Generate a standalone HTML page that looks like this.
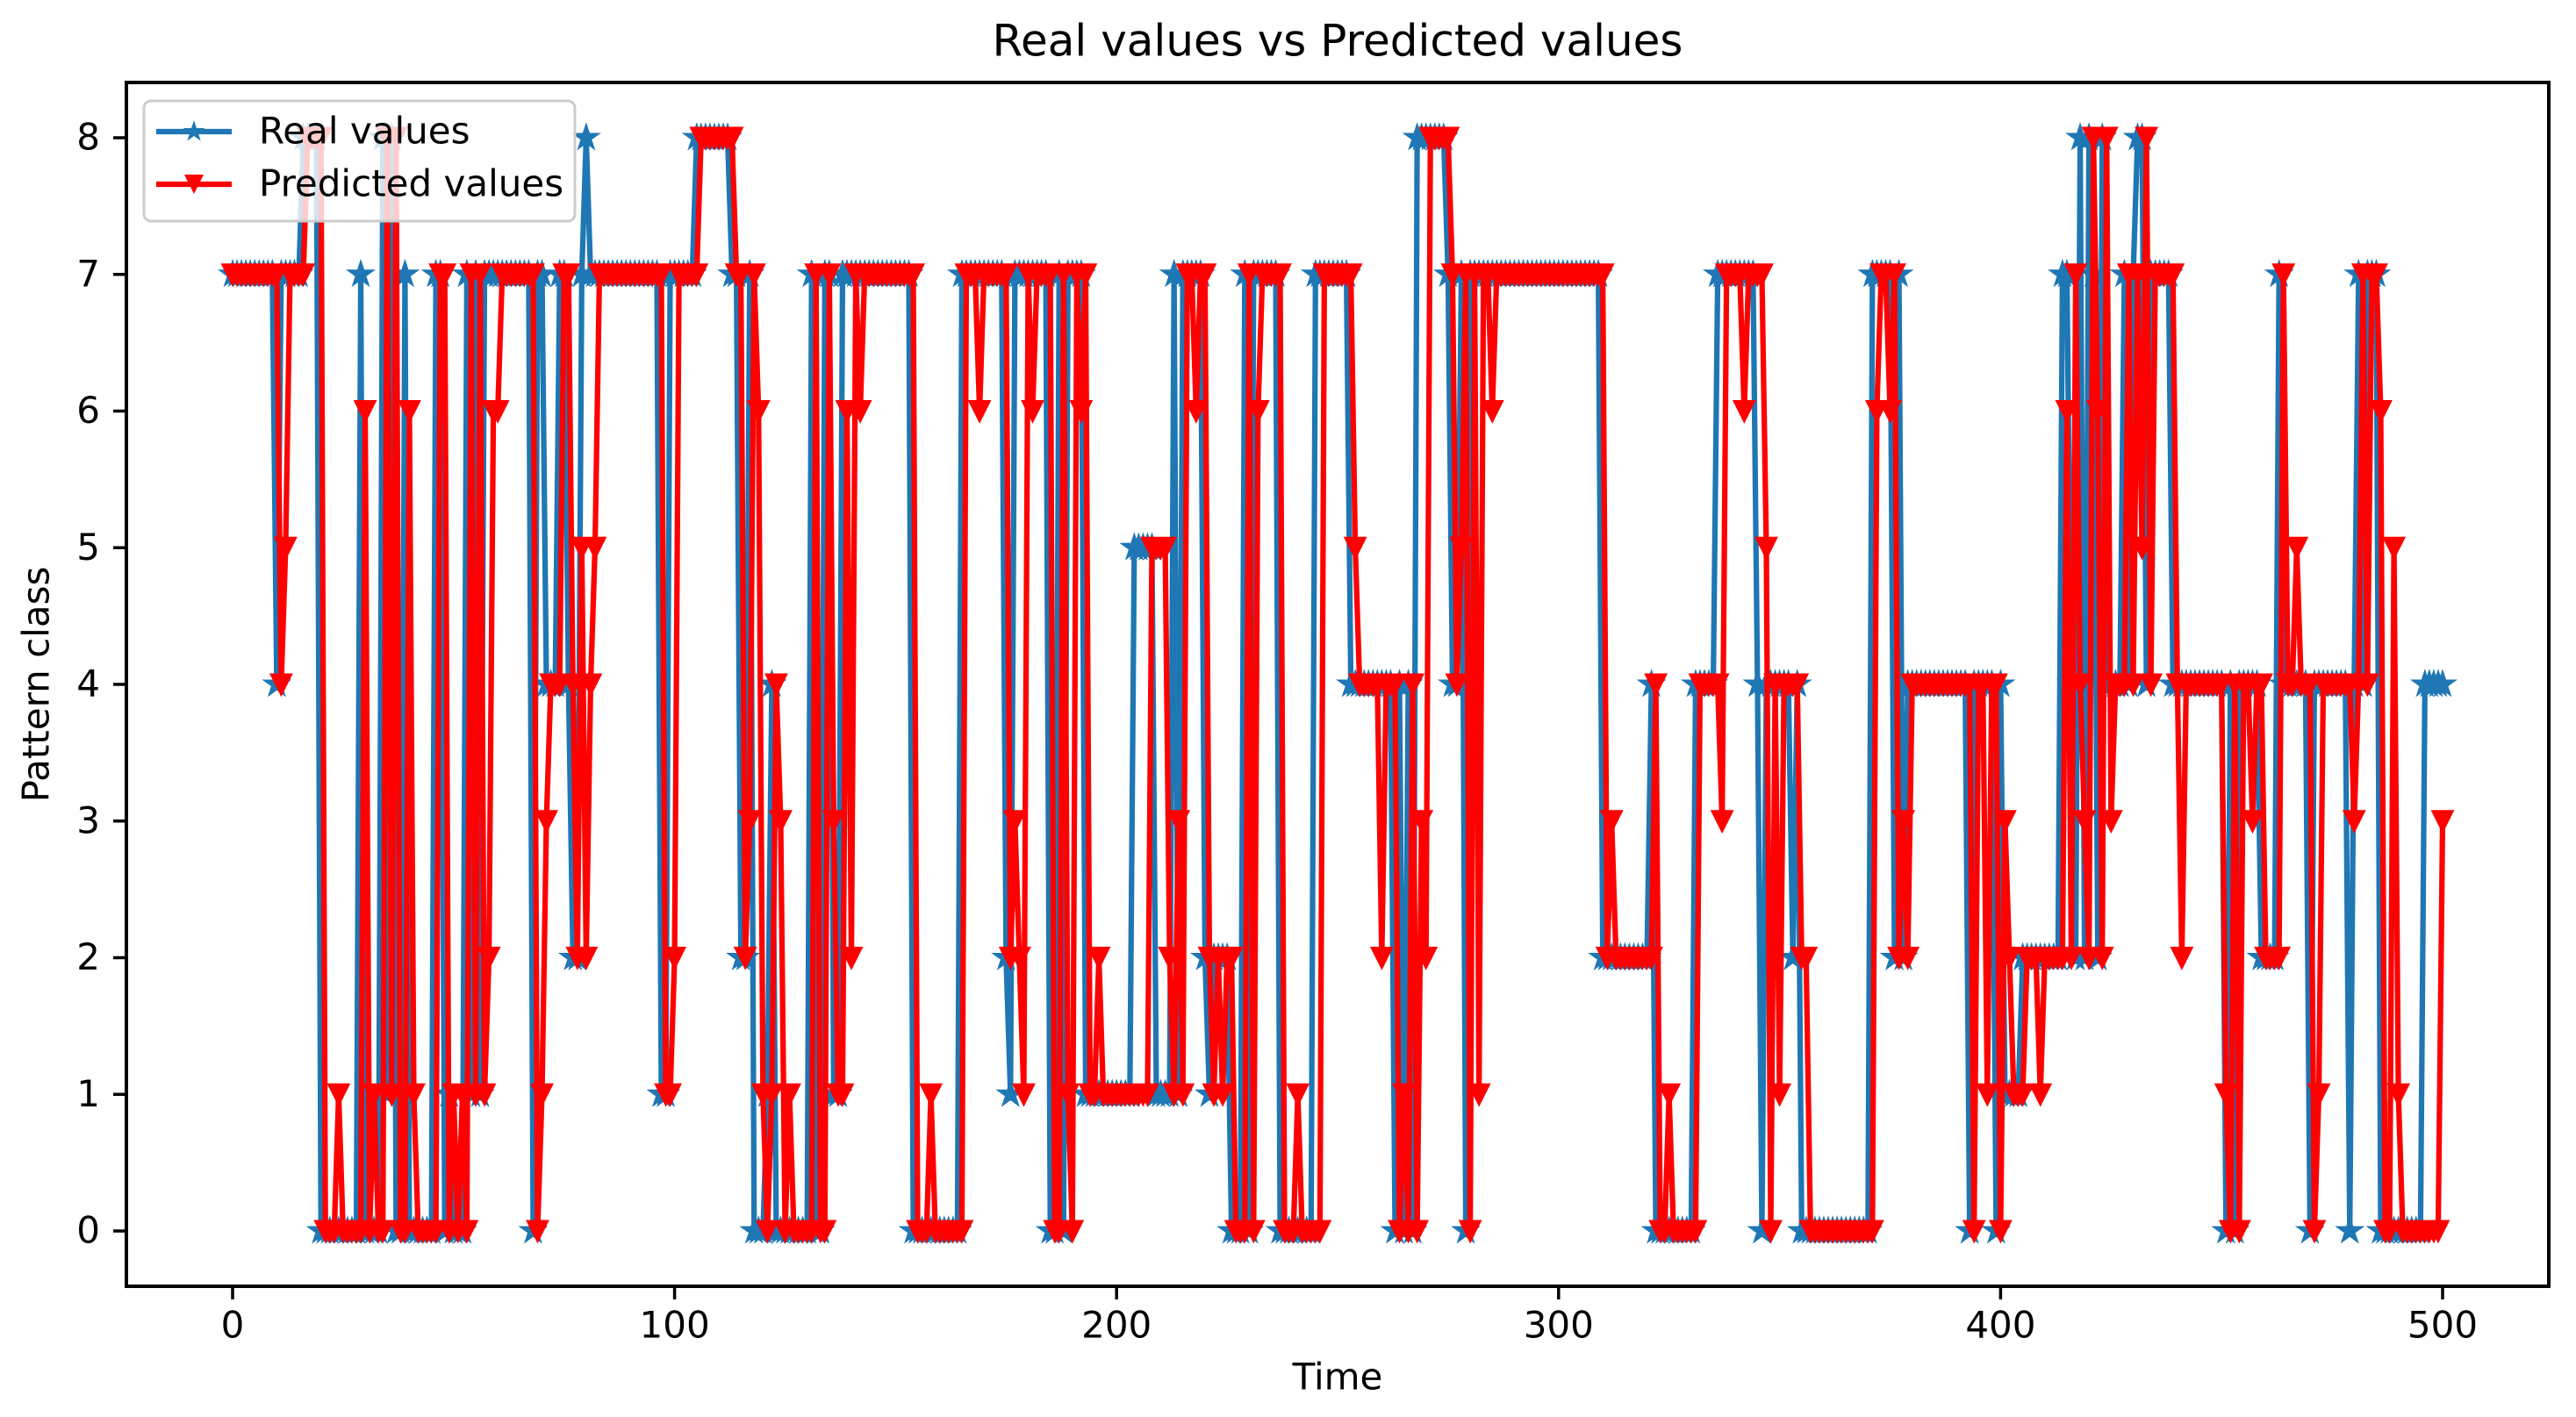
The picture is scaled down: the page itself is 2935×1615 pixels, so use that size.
<!DOCTYPE html>
<html><head><meta charset="utf-8">
<style>
html,body{margin:0;padding:0;background:#fff;}
svg{display:block;}
text{font-family:"DejaVu Sans","Liberation Sans",sans-serif;fill:#000;}
</style></head>
<body>
<svg id="chart" width="2935" height="1615" viewBox="0 0 2935 1615" xmlns="http://www.w3.org/2000/svg">
<defs><clipPath id="plotclip"><rect x="144" y="94" width="2760" height="1372"/></clipPath></defs>
<rect x="0" y="0" width="2935" height="1615" fill="#fff"/>
<text x="1524" y="50" font-size="50" text-anchor="middle" dominant-baseline="middle">Real values vs Predicted values</text>
<g id="plot" clip-path="url(#plotclip)"></g>
<rect x="144" y="94" width="2760" height="1372" fill="none" stroke="#000" stroke-width="4"/>
<g id="ticks"></g>
<text x="1524" y="1572" font-size="42" text-anchor="middle" dominant-baseline="middle">Time</text>
<text x="44" y="780" font-size="42" text-anchor="middle" dominant-baseline="middle" transform="rotate(-90 44 780)">Pattern class</text>
<g>
<rect x="164" y="115" width="491" height="137" rx="8" fill="#fff" fill-opacity="0.8" stroke="#ccc" stroke-width="3"/>
<g>
<line x1="178" y1="150" x2="264" y2="150" stroke="#1f77b4" stroke-width="6.25"/>
<g id="legstar"></g>
<text x="295" y="152" font-size="42" dominant-baseline="middle">Real values</text>
</g>
<g>
<line x1="178" y1="210" x2="264" y2="210" stroke="#ff0000" stroke-width="6.25"/>
<g id="legtri"></g>
<text x="295" y="212" font-size="42" dominant-baseline="middle">Predicted values</text>
</g>
</g>
</svg>
<script>
const xTicks = [0,100,200,300,400,500];
const yTicks = [0,1,2,3,4,5,6,7,8];
const realValues = [
7,7,7,7,7,7,7,7,7,7, 4,7,7,7,7,7,8,8,8,8, 0,0,0,0,0,0,0,0,0,7, 0,0,0,0,8,1,8,0,0,7,
0,0,0,0,0,0,7,7,0,1, 0,0,0,7,1,7,1,7,7,7, 7,7,7,7,7,7,7,7,0,7, 7,4,4,4,7,7,4,2,2,7,
8,7,7,7,7,7,7,7,7,7, 7,7,7,7,7,7,7,1,1,7, 7,7,7,7,7,8,8,8,8,8, 8,8,8,7,7,2,2,7,0,0,
0,1,4,0,0,0,0,0,0,0, 0,7,0,0,7,7,1,1,7,7, 7,7,7,7,7,7,7,7,7,7, 7,7,7,7,0,0,0,0,0,0,
0,0,0,0,0,7,7,7,7,7, 7,7,7,7,7,2,1,7,7,7, 7,7,7,7,7,0,0,7,0,7, 7,7,7,1,1,1,1,1,1,1,
1,1,1,1,5,5,5,5,5,1, 1,1,1,7,1,7,7,7,7,7, 2,1,2,2,2,2,0,0,0,7, 0,7,7,7,7,7,7,0,0,0,
0,0,0,0,0,7,7,7,7,7, 7,7,7,4,4,4,4,4,4,4, 4,4,4,0,4,0,4,0,8,8, 8,8,8,8,8,7,4,4,7,0,
7,7,7,7,7,7,7,7,7,7, 7,7,7,7,7,7,7,7,7,7, 7,7,7,7,7,7,7,7,7,7, 2,2,2,2,2,2,2,2,2,2,
2,4,0,0,0,0,0,0,0,0, 0,4,4,4,4,4,7,7,7,7, 7,7,7,7,7,4,0,4,4,4, 4,4,4,2,4,0,0,0,0,0,
0,0,0,0,0,0,0,0,0,0, 0,7,7,7,7,7,2,7,2,4, 4,4,4,4,4,4,4,4,4,4, 4,4,4,0,4,4,4,4,4,0,
4,1,1,1,1,2,2,2,2,2, 2,2,2,2,7,7,4,2,8,2, 8,7,2,8,4,4,4,4,7,4, 7,8,8,4,7,7,7,7,7,4,
4,4,4,4,4,4,4,4,4,4, 4,0,4,0,4,4,4,4,4,2, 2,2,2,7,4,4,4,4,4,4, 0,4,4,4,4,4,4,4,4,0,
4,7,4,7,7,7,0,0,0,0, 0,0,0,0,0,0,4,4,4,4, 4];
const predictedValues = [
7,7,7,7,7,7,7,7,7,7, 7,4,5,7,7,7,7,8,8,8, 8,0,0,0,1,0,0,0,0,0, 6,0,1,0,0,8,1,8,0,0,
6,1,0,0,0,0,0,7,7,0, 1,0,1,0,7,1,7,1,2,6, 6,7,7,7,7,7,7,7,7,0, 1,3,4,4,4,7,7,4,2,5,
2,4,5,7,7,7,7,7,7,7, 7,7,7,7,7,7,7,7,1,1, 2,7,7,7,7,7,8,8,8,8, 8,8,8,8,7,7,2,3,7,6,
1,0,1,4,3,0,1,0,0,0, 0,0,7,0,0,7,3,1,1,6, 2,7,6,7,7,7,7,7,7,7, 7,7,7,7,7,0,0,0,1,0,
0,0,0,0,0,0,7,7,7,6, 7,7,7,7,7,7,2,3,2,1, 7,6,7,7,7,7,0,0,7,1, 0,7,6,7,1,1,2,1,1,1,
1,1,1,1,1,1,1,1,5,5, 5,5,2,1,3,1,7,7,6,7, 7,2,1,2,1,2,2,0,0,0, 7,0,6,7,7,7,7,7,0,0,
0,1,0,0,0,0,0,7,7,7, 7,7,7,7,5,4,4,4,4,4, 2,4,4,4,0,1,0,4,0,3, 2,8,8,8,8,8,7,4,5,7,
0,7,1,7,7,6,7,7,7,7, 7,7,7,7,7,7,7,7,7,7, 7,7,7,7,7,7,7,7,7,7, 7,2,3,2,2,2,2,2,2,2,
2,2,4,0,0,1,0,0,0,0, 0,0,4,4,4,4,4,3,7,7, 7,7,6,7,7,7,7,5,0,4, 1,4,4,4,4,2,2,0,0,0,
0,0,0,0,0,0,0,0,0,0, 0,0,6,7,7,6,7,2,3,2, 4,4,4,4,4,4,4,4,4,4, 4,4,4,4,0,4,4,1,4,4,
0,3,2,1,1,1,2,2,2,1, 2,2,2,2,2,6,2,7,4,3, 2,8,6,2,8,3,4,4,4,7, 4,7,5,8,4,7,7,7,7,7,
4,2,4,4,4,4,4,4,4,4, 4,1,0,4,0,4,4,3,4,4, 2,2,2,2,7,4,4,5,4,4, 4,0,1,4,4,4,4,4,4,4,
3,4,7,4,7,7,6,0,0,5, 1,0,0,0,0,0,0,0,0,0, 3];

const NS = "http://www.w3.org/2000/svg";
const X0 = 265, X500 = 2783, Y0 = 1403, Y8 = 157;
function xScale(t){ return X0 + (X500 - X0) * t / 500; }
function yScale(v){ return Y0 + (Y8 - Y0) * v / 8; }

function starPath(cx, cy, R){
  const r = R * 0.381966;
  let d = "";
  for (let i = 0; i < 10; i++){
    const ang = -Math.PI/2 + i * Math.PI/5;
    const rad = (i % 2 === 0) ? R : r;
    d += (i === 0 ? "M" : "L") + (cx + rad*Math.cos(ang)).toFixed(2) + "," + (cy + rad*Math.sin(ang)).toFixed(2);
  }
  return d + "Z";
}
function triPath(cx, cy, r){
  return "M" + cx + "," + (cy + r) + "L" + (cx - r) + "," + (cy - r) + "L" + (cx + r) + "," + (cy - r) + "Z";
}

const plot = document.getElementById("plot");
function drawSeries(values, color, name, markerFn, mr){
  const g = document.createElementNS(NS, "g");
  
  
  const pts = values.map((v, i) => xScale(i).toFixed(2) + "," + yScale(v).toFixed(2)).join(" ");
  const pl = document.createElementNS(NS, "polyline");
  
  
  pl.setAttribute("points", pts);
  pl.setAttribute("fill", "none");
  pl.setAttribute("stroke", color);
  pl.setAttribute("stroke-width", "6.25");
  pl.setAttribute("stroke-linejoin", "round");
  g.appendChild(pl);
  let d = "";
  values.forEach((v, i) => { d += markerFn(xScale(i), yScale(v), mr); });
  const mk = document.createElementNS(NS, "path");
  
  
  mk.setAttribute("d", d);
  mk.setAttribute("fill", color);
  mk.setAttribute("stroke", color);
  mk.setAttribute("stroke-width", "3");
  mk.setAttribute("stroke-linejoin", "miter");
  g.appendChild(mk);
  plot.appendChild(g);
}
drawSeries(realValues, "#1f77b4", "real-values", starPath, 13);
drawSeries(predictedValues, "#ff0000", "predicted-values", triPath, 11);

// legend markers
const ls = document.createElementNS(NS, "path");


ls.setAttribute("d", starPath(221, 150, 13));
ls.setAttribute("fill", "#1f77b4");
document.getElementById("legstar").appendChild(ls);
const lt = document.createElementNS(NS, "path");


lt.setAttribute("d", triPath(221, 210, 11));
lt.setAttribute("fill", "#ff0000");
document.getElementById("legtri").appendChild(lt);

// ticks
const tg = document.getElementById("ticks");
xTicks.forEach(t => {
  const x = xScale(t);
  const ln = document.createElementNS(NS, "line");
  
  
  ln.setAttribute("x1", x); ln.setAttribute("x2", x);
  ln.setAttribute("y1", 1466); ln.setAttribute("y2", 1481);
  ln.setAttribute("stroke", "#000"); ln.setAttribute("stroke-width", "3.5");
  tg.appendChild(ln);
  const tx = document.createElementNS(NS, "text");
  
  
  tx.setAttribute("x", x); tx.setAttribute("y", 1513);
  tx.setAttribute("font-size", "42");
  tx.setAttribute("text-anchor", "middle");
  tx.setAttribute("dominant-baseline", "middle");
  tx.textContent = t;
  tg.appendChild(tx);
});
yTicks.forEach(v => {
  const y = yScale(v);
  const ln = document.createElementNS(NS, "line");
  
  
  ln.setAttribute("x1", 129); ln.setAttribute("x2", 144);
  ln.setAttribute("y1", y); ln.setAttribute("y2", y);
  ln.setAttribute("stroke", "#000"); ln.setAttribute("stroke-width", "3.5");
  tg.appendChild(ln);
  const tx = document.createElementNS(NS, "text");
  
  
  tx.setAttribute("x", 114); tx.setAttribute("y", y + 2);
  tx.setAttribute("font-size", "42");
  tx.setAttribute("text-anchor", "end");
  tx.setAttribute("dominant-baseline", "middle");
  tx.textContent = v;
  tg.appendChild(tx);
});
</script>
</body></html>
